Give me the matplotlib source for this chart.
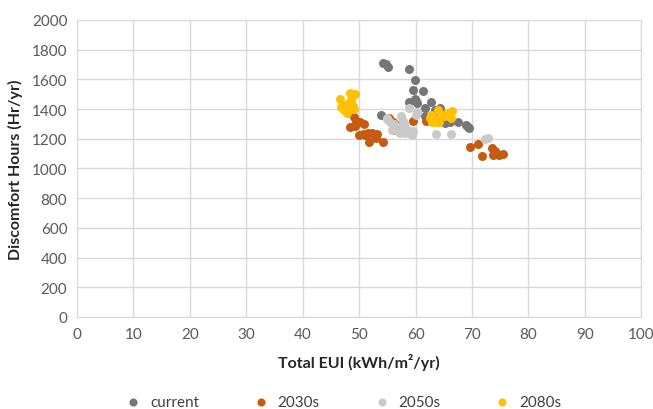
import matplotlib.pyplot as plt

plt.rcParams['font.family'] = ['Lato', 'DejaVu Sans']

# data
cur_x = [54.3, 54.8, 55.1, 58.8, 59.9, 59.5, 61.4, 58.8, 60.1, 60.3, 59.9,
         62.8, 61.7, 64.3, 63.5, 53.9, 61.6, 65.5, 65.2, 66.1, 67.6, 68.9,
         69.3, 69.5, 64.8, 66.0, 62.5, 63.8, 64.5]
cur_y = [1710, 1705, 1685, 1670, 1595, 1530, 1520, 1445, 1455, 1440, 1465,
         1450, 1410, 1405, 1395, 1360, 1355, 1340, 1305, 1310, 1310, 1290,
         1280, 1270, 1360, 1375, 1340, 1345, 1330]

y2030_x = [49.1, 49.5, 48.4, 49.2, 50.2, 50.9, 50.0, 51.0, 51.6, 52.2, 52.7,
           53.2, 52.9, 51.8, 54.2, 50.6, 55.3, 56.0, 56.2, 57.0, 59.5, 61.8,
           69.7, 71.0, 71.8, 73.5, 73.7, 74.3, 74.8, 75.5, 74.0]
y2030_y = [1345, 1320, 1280, 1285, 1310, 1300, 1225, 1225, 1240, 1240, 1225,
           1230, 1205, 1175, 1175, 1230, 1340, 1310, 1260, 1290, 1320, 1320,
           1145, 1165, 1085, 1140, 1090, 1100, 1090, 1100, 1120]

y2050_x = [55.0, 55.5, 56.0, 56.5, 57.0, 57.5, 57.8, 58.0, 58.3, 58.6, 59.0,
           59.3, 56.8, 57.2, 58.9, 60.0, 60.3, 55.8, 57.5, 58.2, 56.2, 59.6,
           63.6, 66.3, 72.3, 72.9, 54.9]
y2050_y = [1340, 1310, 1290, 1270, 1280, 1350, 1320, 1300, 1270, 1250, 1240,
           1225, 1250, 1240, 1410, 1360, 1380, 1260, 1265, 1240, 1300, 1255,
           1230, 1230, 1195, 1205, 1330]

y2080_x = [46.6, 46.8, 47.3, 47.8, 48.3, 48.8, 49.2, 48.6, 48.2, 48.9, 49.1,
           47.5, 62.5, 63.0, 63.5, 64.0, 64.5, 65.0, 65.5, 66.0, 66.5, 66.2,
           63.8, 62.8, 64.2, 65.8]
y2080_y = [1465, 1415, 1395, 1375, 1505, 1490, 1500, 1460, 1440, 1420, 1400,
           1430, 1340, 1310, 1330, 1395, 1360, 1350, 1370, 1370, 1385, 1340,
           1310, 1360, 1315, 1355]

series = [
    ('current', cur_x, cur_y, '#767676'),
    ('2030s', y2030_x, y2030_y, '#c55a11'),
    ('2050s', y2050_x, y2050_y, '#c9c9c9'),
    ('2080s', y2080_x, y2080_y, '#ffc000'),
]

fig = plt.figure(figsize=(6.53, 4.10), dpi=100)
ax = fig.add_axes([0.118, 0.2244, 0.864, 0.7246])

for name, xs, ys, col in series:
    ax.scatter(xs, ys, s=42, color=col, label=name, linewidths=0, zorder=3)

ax.set_xlim(0, 100)
ax.set_ylim(0, 2000)
ax.set_xticks(range(0, 101, 10))
ax.set_yticks(range(0, 2001, 200))
ax.grid(True, color='#d9d9d9', linewidth=1, zorder=0)
for sp in ax.spines.values():
    sp.set_color('#d9d9d9')
ax.tick_params(length=0, labelsize=11, labelcolor='#595959', pad=7)

ax.set_xlabel('Total EUI (kWh/m\u00b2/yr)', fontsize=11.5, fontweight='bold',
              color='#262626', labelpad=9)
ax.set_ylabel('Discomfort Hours (Hr/yr)', fontsize=11.5, fontweight='bold',
              color='#262626', labelpad=6)

fig.legend(loc='lower center', bbox_to_anchor=(0.52, -0.033), ncol=4,
           frameon=False, fontsize=11, handletextpad=0.1, columnspacing=3.05,
           markerscale=0.9, labelcolor='#404040')

fig.savefig('out.png', dpi=100)
